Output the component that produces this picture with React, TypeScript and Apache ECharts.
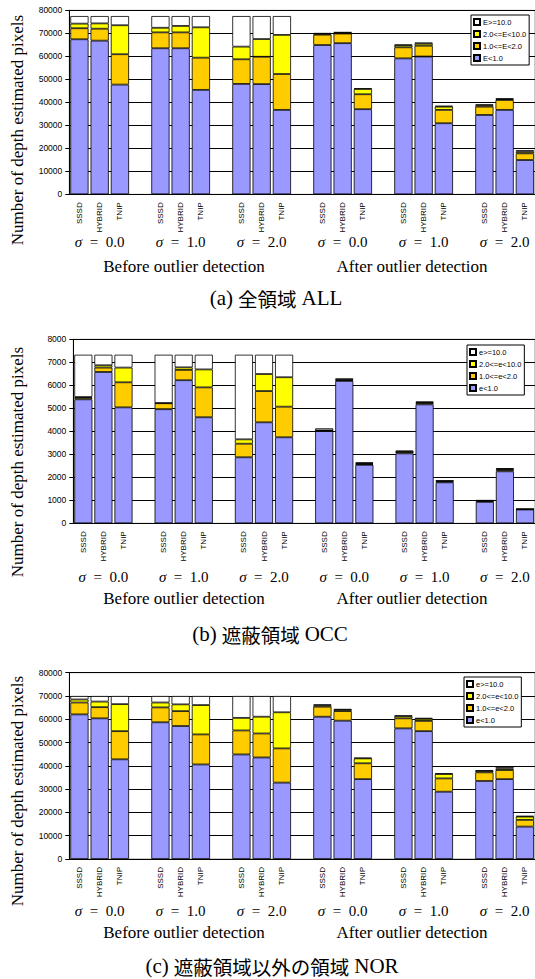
import React, { useEffect, useRef } from 'react';
import * as echarts from 'echarts';

// ---- categories ----
const methods = ['SSSD', 'HYBRID', 'TNIP'];
const sigmaValues = ['0.0', '1.0', '2.0'];
const phaseLabels = ['Before outlier detection', 'After outlier detection'];

// ---- (a) 全領域 ALL : order = before σ0 (SSSD,HYBRID,TNIP), σ1, σ2, after σ0, σ1, σ2 ----
const allLt1 = [67400, 66800, 47700, 63500, 63500, 45400, 48000, 47900, 36700, 64900, 65700, 37000, 59100, 59900, 30900, 34500, 36700, 14900];
const all1to2 = [4800, 5200, 13200, 6900, 6900, 14000, 10700, 11900, 15600, 4500, 4200, 6500, 4800, 4700, 5800, 3600, 4300, 2900];
const all2to10 = [2000, 2300, 12600, 2000, 2800, 13200, 5500, 7700, 17000, 400, 400, 2300, 900, 900, 1400, 600, 400, 700];
const allGe10 = [3300, 3200, 4000, 5100, 4300, 4900, 13300, 10000, 8200, 300, 200, 300, 300, 500, 400, 400, 300, 700];

// ---- (b) 遮蔽領域 OCC ----
const occLt1 = [5390, 6580, 5040, 4960, 6220, 4610, 2870, 4390, 3740, 4010, 6190, 2540, 3040, 5170, 1780, 930, 2260, 600];
const occ1to2 = [70, 190, 1090, 260, 450, 1300, 590, 1360, 1330, 20, 40, 40, 60, 60, 40, 40, 60, 10];
const occ2to10 = [30, 100, 640, 10, 110, 780, 190, 740, 1280, 10, 20, 30, 20, 30, 20, 10, 40, 5];
const occGe10 = [1840, 460, 560, 2100, 550, 640, 3680, 840, 980, 90, 50, 40, 40, 30, 20, 30, 40, 5];

// ---- (c) 遮蔽領域以外の領域 NOR ----
const norLt1 = [62100, 60400, 42800, 58700, 57100, 40600, 44900, 43600, 32800, 61100, 59400, 34300, 56100, 54900, 28900, 33500, 34300, 13900];
const nor1to2 = [5100, 4800, 12100, 6400, 6400, 12900, 10300, 10300, 14700, 4300, 4100, 6800, 4300, 4400, 5700, 3700, 3900, 2900];
const nor2to10 = [1300, 2400, 11600, 2100, 2900, 12600, 5400, 7200, 15500, 600, 600, 2100, 900, 900, 1900, 600, 600, 1400];
const norGe10 = [1500, 2400, 3500, 2800, 3600, 3900, 9400, 8900, 7000, 400, 300, 300, 400, 400, 300, 300, 700, 300];

const namesUpper = ['E<1.0', '1.0<=E<2.0', '2.0<=E<10.0', 'E>=10.0'];
const namesLower = ['e<1.0', '1.0<=e<2.0', '2.0<=e<10.0', 'e>=10.0'];
const colors = ['#9999FF', '#FFCC00', '#FFFF00', '#FFFFFF'];

// slot layout: 3 bars per group, one empty slot between groups
const slotIds: string[] = [];
const slotLabels: string[] = [];
const sigmaLabels: string[] = [];
const slotIdx: number[] = [];
{
  let k = 0;
  for (let p = 0; p < 2; p++) {
    for (let s = 0; s < 3; s++) {
      for (let m = 0; m < 3; m++) {
        slotIds.push(`${p}-${s}-${m}`);
        slotLabels.push(methods[m]);
        sigmaLabels.push(m === 1 ? `{s|σ}  =  ${sigmaValues[s]}` : '');
        slotIdx.push(k++);
      }
      if (!(p === 1 && s === 2)) {
        slotIds.push(`${p}-${s}-gap`);
        slotLabels.push('');
        sigmaLabels.push('');
        slotIdx.push(-1);
      }
    }
  }
}
const toSlots = (arr: number[]) => slotIdx.map((i) => (i < 0 ? '-' : arr[i]));

const panels = [
  {
    top: 10.3, bottom: 194.3, left: 69.3, right: -3.5, max: 80000, interval: 10000,
    names: namesUpper, layers: [allLt1, all1to2, all2to10, allGe10],
    legend: { left: 471, top: 15 }, titleY: 130, sigmaY: 242, phaseY: 266, captionY: 298, captionX: 276,
    capTag: '(a)', capJa: '全領域', capEn: 'ALL',
  },
  {
    top: 339.3, bottom: 523.3, left: 73.3, right: -4, max: 8000, interval: 1000,
    names: namesLower, layers: [occLt1, occ1to2, occ2to10, occGe10],
    legend: { left: 467, top: 345 }, titleY: 462, sigmaY: 577, phaseY: 598, captionY: 634, captionX: 270,
    capTag: '(b)', capJa: '遮蔽領域', capEn: 'OCC',
  },
  {
    top: 672.7, bottom: 859, left: 69.3, right: -3.5, max: 80000, interval: 10000,
    names: namesLower, layers: [norLt1, nor1to2, nor2to10, norGe10],
    legend: { left: 464, top: 677 }, titleY: 791, sigmaY: 911, phaseY: 932, captionY: 966, captionX: 272,
    capTag: '(c)', capJa: '遮蔽領域以外の領域', capEn: 'NOR',
  },
];

const SERIF = '"Liberation Serif", "Times New Roman", serif';
const SANS = '"Liberation Sans", Arial, sans-serif';
const CJK = '"Noto Sans CJK JP", sans-serif';

export default function App() {
  const ref = useRef<HTMLDivElement>(null);
  useEffect(() => {
    if (!ref.current) return;
    const chart = echarts.init(ref.current, undefined, { renderer: 'svg' });

    const grid: any[] = [];
    const xAxis: any[] = [];
    const yAxis: any[] = [];
    const legend: any[] = [];
    const series: any[] = [];
    const graphic: any[] = [];

    panels.forEach((pn, i) => {
      grid.push({
        left: pn.left, right: pn.right, top: pn.top, height: pn.bottom - pn.top,
        show: true, borderColor: '#999', borderWidth: 1, backgroundColor: '#fff',
      });
      xAxis.push({
        type: 'category', gridIndex: i, data: slotIds, position: 'bottom',
        axisLine: { show: true, lineStyle: { color: '#000', width: 1 } },
        axisTick: { show: false },
        axisLabel: {
          interval: 0, rotate: 90, margin: 8, fontSize: 8, fontFamily: SANS, color: '#000',
          formatter: (_v: string, idx: number) => slotLabels[idx],
        },
      });
      xAxis.push({
        type: 'category', gridIndex: i, data: slotIds, position: 'bottom',
        axisLine: { show: false }, axisTick: { show: false },
        axisLabel: {
          interval: 0, margin: pn.sigmaY - pn.bottom - 8, fontSize: 15, lineHeight: 16,
          fontFamily: SERIF, color: '#000',
          formatter: (_v: string, idx: number) => sigmaLabels[idx],
          rich: { s: { fontStyle: 'italic', fontFamily: SERIF, fontSize: 15, lineHeight: 16, color: '#000' } },
        },
      });
      yAxis.push({
        type: 'value', gridIndex: i, min: 0, max: pn.max, interval: pn.interval,
        axisLine: { show: true, lineStyle: { color: '#000', width: 1 } },
        axisTick: { show: true, length: 4, lineStyle: { color: '#000' } },
        axisLabel: {
          fontSize: 8.5, fontFamily: SANS, color: '#000', margin: 7,
          formatter: (v: number) => String(v),
        },
        splitLine: { show: true, lineStyle: { color: '#000', width: 1 } },
      });
      legend.push({
        orient: 'vertical', left: pn.legend.left, top: pn.legend.top,
        data: [pn.names[3], pn.names[2], pn.names[1], pn.names[0]],
        icon: 'rect', itemWidth: 6, itemHeight: 6, itemGap: 4,
        padding: [3, 3, 3, 2], borderColor: '#000', borderWidth: 1, backgroundColor: '#fff',
        textStyle: { fontSize: 7.5, fontFamily: SANS, color: '#000', padding: [0, 0, 0, -2] },
        selectedMode: false,
      });
      pn.layers.forEach((layer, j) => {
        series.push({
          type: 'bar', name: pn.names[j], stack: 'st' + i, xAxisIndex: 2 * i, yAxisIndex: i,
          data: toSlots(layer), barCategoryGap: '10%',
          itemStyle: { color: colors[j], borderColor: '#000', borderWidth: 0.8 },
          emphasis: { disabled: true },
        });
      });
      graphic.push({
        type: 'text', x: 17, y: pn.titleY, rotation: Math.PI / 2,
        style: { text: 'Number of depth estimated pixels', fontSize: 17, fontFamily: SERIF, fill: '#000', align: 'center', verticalAlign: 'middle' },
      });
      graphic.push({
        type: 'text', x: 184, y: pn.phaseY,
        style: { text: phaseLabels[0], fontSize: 17, fontFamily: SERIF, fill: '#000', align: 'center', verticalAlign: 'middle' },
      });
      graphic.push({
        type: 'text', x: 412, y: pn.phaseY,
        style: { text: phaseLabels[1], fontSize: 17, fontFamily: SERIF, fill: '#000', align: 'center', verticalAlign: 'middle' },
      });
      graphic.push({
        type: 'text', x: pn.captionX, y: pn.captionY,
        style: {
          text: `{l|${pn.capTag}} {j|${pn.capJa}} {l|${pn.capEn}}`,
          fontSize: 20, fontFamily: SERIF, fill: '#000', align: 'center', verticalAlign: 'middle',
          rich: {
            l: { fontSize: 21, fontFamily: SERIF, fill: '#000' },
            j: { fontSize: 19.5, fontFamily: CJK, fill: '#000' },
          },
        },
      });
    });

    chart.setOption({
      animation: false,
      backgroundColor: '#fff',
      grid, xAxis, yAxis, legend, series, graphic,
    });
    return () => chart.dispose();
  }, []);

  return (
    <div
      ref={ref}
      style={{ position: 'fixed', left: 0, top: 0, width: 535, height: 979, background: '#fff' }}
    />
  );
}
